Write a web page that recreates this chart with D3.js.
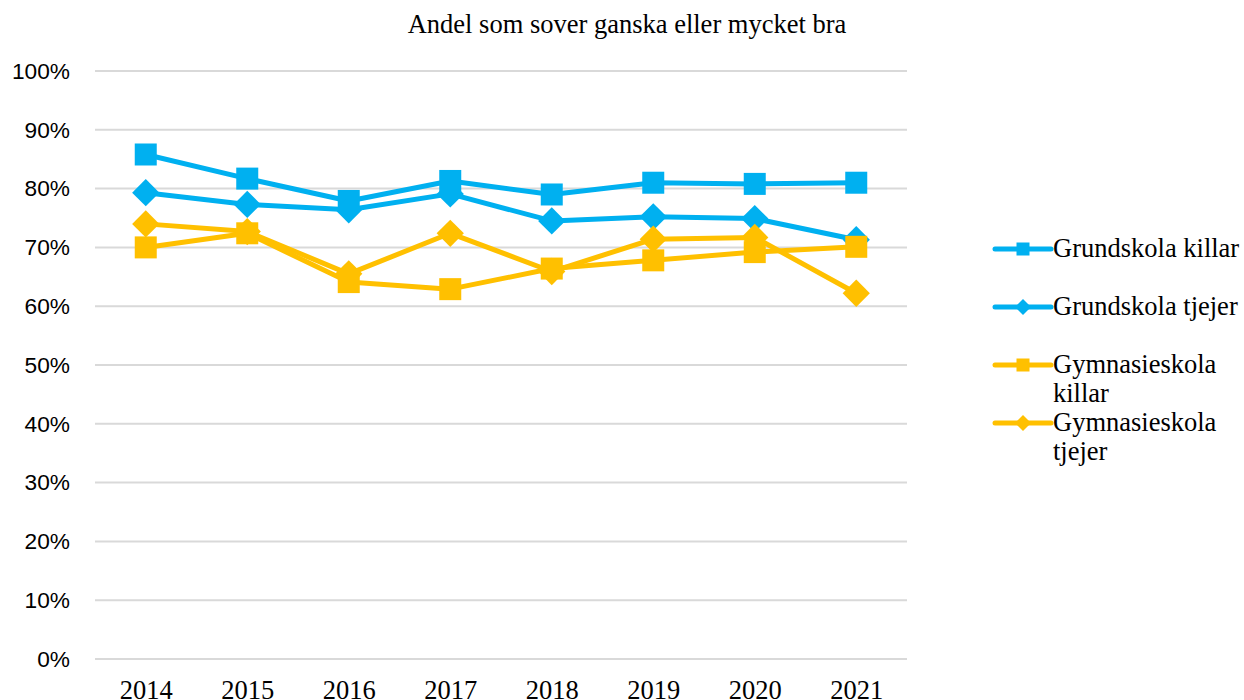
<!DOCTYPE html>
<html>
<head>
<meta charset="utf-8">
<script src="https://cdn.jsdelivr.net/npm/d3@7"></script>
<style>
  body { margin: 0; background: #fff; }
  svg { display: block; }
</style>
</head>
<body>
<div id="chart"></div>
<script>
// data
var years = ["2014", "2015", "2016", "2017", "2018", "2019", "2020", "2021"];
var grundKillar = [85.8, 81.7, 77.9, 81.3, 79.0, 81.0, 80.8, 81.0];
var grundTjejer = [79.3, 77.3, 76.4, 79.1, 74.5, 75.2, 74.9, 71.3];
var gymKillar   = [70.0, 72.4, 64.1, 62.9, 66.4, 67.8, 69.2, 70.1];
var gymTjejer   = [74.0, 72.7, 65.5, 72.4, 65.9, 71.4, 71.7, 62.2];
var yTicks = [0, 10, 20, 30, 40, 50, 60, 70, 80, 90, 100];

var series = [
  {name: ["Grundskola killar"], values: grundKillar, color: "#00B0F0", shape: "square"},
  {name: ["Grundskola tjejer"], values: grundTjejer, color: "#00B0F0", shape: "diamond"},
  {name: ["Gymnasieskola", "killar"], values: gymKillar, color: "#FFC000", shape: "square"},
  {name: ["Gymnasieskola", "tjejer"], values: gymTjejer, color: "#FFC000", shape: "diamond"}
];

var W = 1244, H = 700;
var plot = {left: 95, right: 907, top: 71, bottom: 659};
var serif = "'Liberation Serif', 'Times New Roman', serif";

var svg = d3.select("#chart").append("svg")
    .attr("width", W)
    .attr("height", H);

var x = d3.scalePoint()
    .domain(years)
    .range([plot.left, plot.right])
    .padding(0.5);

var y = d3.scaleLinear()
    .domain([0, 100])
    .range([plot.bottom, plot.top]);

// title
svg.append("text")
    .attr("x", 627)
    .attr("y", 33)
    .attr("text-anchor", "middle")
    .style("font-family", serif)
    .style("font-size", "26.5px")
    .text("Andel som sover ganska eller mycket bra");

// gridlines
svg.append("g")
  .selectAll("line")
  .data(yTicks)
  .enter().append("line")
    .attr("x1", plot.left)
    .attr("x2", plot.right)
    .attr("y1", function(d) { return y(d); })
    .attr("y2", function(d) { return y(d); })
    .attr("stroke", "#d9d9d9")
    .attr("stroke-width", 2);

// y axis
var yAxis = svg.append("g")
    .attr("transform", "translate(" + (plot.left - 25) + ",0)")
    .call(d3.axisLeft(y).tickValues(yTicks).tickSize(0).tickPadding(0)
      .tickFormat(function(d) { return d + "%"; }));
yAxis.select(".domain").remove();
yAxis.selectAll("text")
    .style("font-family", "'Liberation Sans', Arial, sans-serif")
    .style("font-size", "22.7px")
    .attr("fill", "#000");

// x axis
var xAxis = svg.append("g")
    .attr("transform", "translate(0," + plot.bottom + ")")
    .call(d3.axisBottom(x).tickSize(0).tickPadding(0));
xAxis.select(".domain").remove();
xAxis.selectAll("text")
    .attr("y", 40)
    .attr("dy", 0)
    .style("font-family", serif)
    .style("font-size", "26.5px")
    .attr("fill", "#000");

var line = d3.line()
    .x(function(d, i) { return x(years[i]); })
    .y(function(d) { return y(d); });

function marker(g, shape, color, size) {
  if (shape === "square") {
    g.append("rect")
      .attr("x", -size / 2).attr("y", -size / 2)
      .attr("width", size).attr("height", size)
      .attr("fill", color);
  } else {
    var r = size * 0.62;
    g.append("path")
      .attr("d", "M0," + (-r) + "L" + r + ",0L0," + r + "L" + (-r) + ",0Z")
      .attr("fill", color);
  }
}

// lines, drawn in order so later series sit on top
series.forEach(function(s) {
  var g = svg.append("g");
  g.append("path")
    .attr("d", line(s.values))
    .attr("fill", "none")
    .attr("stroke", s.color)
    .attr("stroke-width", 5)
    .attr("stroke-linejoin", "round");
  s.values.forEach(function(v, i) {
    var m = g.append("g").attr("transform", "translate(" + x(years[i]) + "," + y(v) + ")");
    marker(m, s.shape, s.color, 22);
  });
});

// legend
var legY = [249, 307, 365, 423];
series.forEach(function(s, i) {
  var g = svg.append("g").attr("transform", "translate(995," + legY[i] + ")");
  g.append("line")
    .attr("x1", 0).attr("x2", 56)
    .attr("stroke", s.color)
    .attr("stroke-width", 5)
    .attr("stroke-linecap", "round");
  var m = g.append("g").attr("transform", "translate(28,0)");
  marker(m, s.shape, s.color, 13);
  var t = g.append("text")
    .attr("y", 8)
    .style("font-family", serif)
    .style("font-size", "26.5px");
  s.name.forEach(function(n, j) {
    t.append("tspan").attr("x", 58).attr("dy", j === 0 ? 0 : 29).text(n);
  });
});
</script>
</body>
</html>
